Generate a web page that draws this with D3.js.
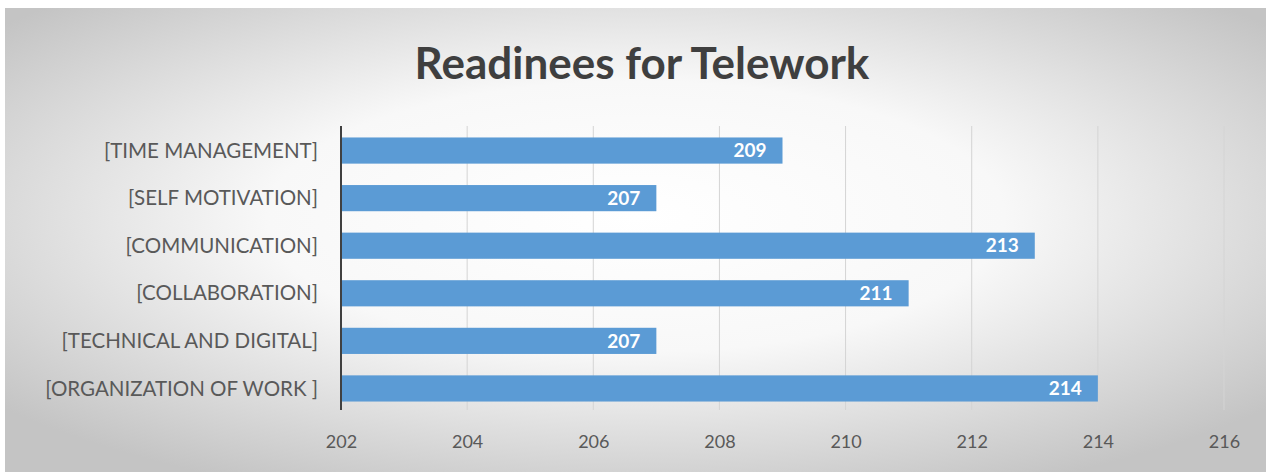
<!DOCTYPE html>
<html><head><meta charset="utf-8">
<script src="https://cdn.jsdelivr.net/npm/d3@7"></script>
<style>html,body{margin:0;padding:0;background:#fff;}svg{display:block;}</style>
</head><body>
<svg id="c" width="1266" height="472"></svg>
<script>
const categories = ["[TIME MANAGEMENT]","[SELF MOTIVATION]","[COMMUNICATION]","[COLLABORATION]","[TECHNICAL AND DIGITAL]","[ORGANIZATION OF WORK ]"];
const values = [209,207,213,211,207,214];
const tickValues = [202,204,206,208,210,212,214,216];
const title = "Readinees for Telework";

const svg = d3.select("#c");
const defs = svg.append("defs");
const g = defs.append("radialGradient").attr("id","bg").attr("cx","50%").attr("cy","45%").attr("r","65%");
g.append("stop").attr("offset","0%").attr("stop-color","#ffffff");
g.append("stop").attr("offset","45%").attr("stop-color","#f8f8f8");
g.append("stop").attr("offset","100%").attr("stop-color","#c4c4c4");
svg.append("rect").attr("x",5).attr("y",8).attr("width",1261).attr("height",464).attr("fill","url(#bg)");

const x = d3.scaleLinear().domain([202,216]).range([341,1224]);
const y = d3.scaleBand().domain(categories).range([127,412]).paddingInner(0.45).paddingOuter(0.22);

// gridlines
svg.append("g").selectAll("line").data(tickValues.slice(1)).join("line")
  .attr("x1",d=>x(d)).attr("x2",d=>x(d)).attr("y1",126).attr("y2",410)
  .attr("stroke","#d4d4d4").attr("stroke-width",1);

svg.append("g").selectAll("rect").data(values).join("rect")
  .attr("x",x(202)).attr("y",(d,i)=>y(categories[i]))
  .attr("width",d=>x(d)-x(202)).attr("height",y.bandwidth())
  .attr("fill","#5b9bd5");

svg.append("g").selectAll("text").data(values).join("text")
  .attr("x",d=>x(d)-16).attr("y",(d,i)=>y(categories[i])+y.bandwidth()/2)
  .attr("dy","0.35em").attr("text-anchor","end")
  .attr("font-family","Lato, 'Open Sans', sans-serif").attr("font-weight","bold").attr("font-size",19)
  .attr("fill","#ffffff").text(d=>d);

// y axis line
svg.append("line").attr("x1",x(202)).attr("x2",x(202)).attr("y1",126).attr("y2",410)
  .attr("stroke","#404040").attr("stroke-width",2);

// category labels
svg.append("g").selectAll("text").data(categories).join("text")
  .attr("x",318).attr("y",d=>y(d)+y.bandwidth()/2).attr("dy","0.35em")
  .attr("text-anchor","end").attr("font-family","Lato, 'Open Sans', sans-serif")
  .attr("font-size",20.5).attr("fill","#595959").text(d=>d);

// x axis tick labels
const xAxis = d3.axisBottom(x).tickValues(tickValues).tickSize(0).tickPadding(0);
const ax = svg.append("g").attr("transform","translate(0,435)").call(xAxis);
ax.select(".domain").remove();
ax.selectAll("text").attr("font-family","Lato, 'Open Sans', sans-serif").attr("font-size",18).attr("fill","#595959");

svg.append("text").attr("x",642).attr("y",79).attr("text-anchor","middle")
  .attr("font-family","Lato, 'Open Sans', sans-serif").attr("font-weight","bold").attr("font-size",44)
  .attr("fill","#3f3f3f").text(title);
</script>
</body></html>
